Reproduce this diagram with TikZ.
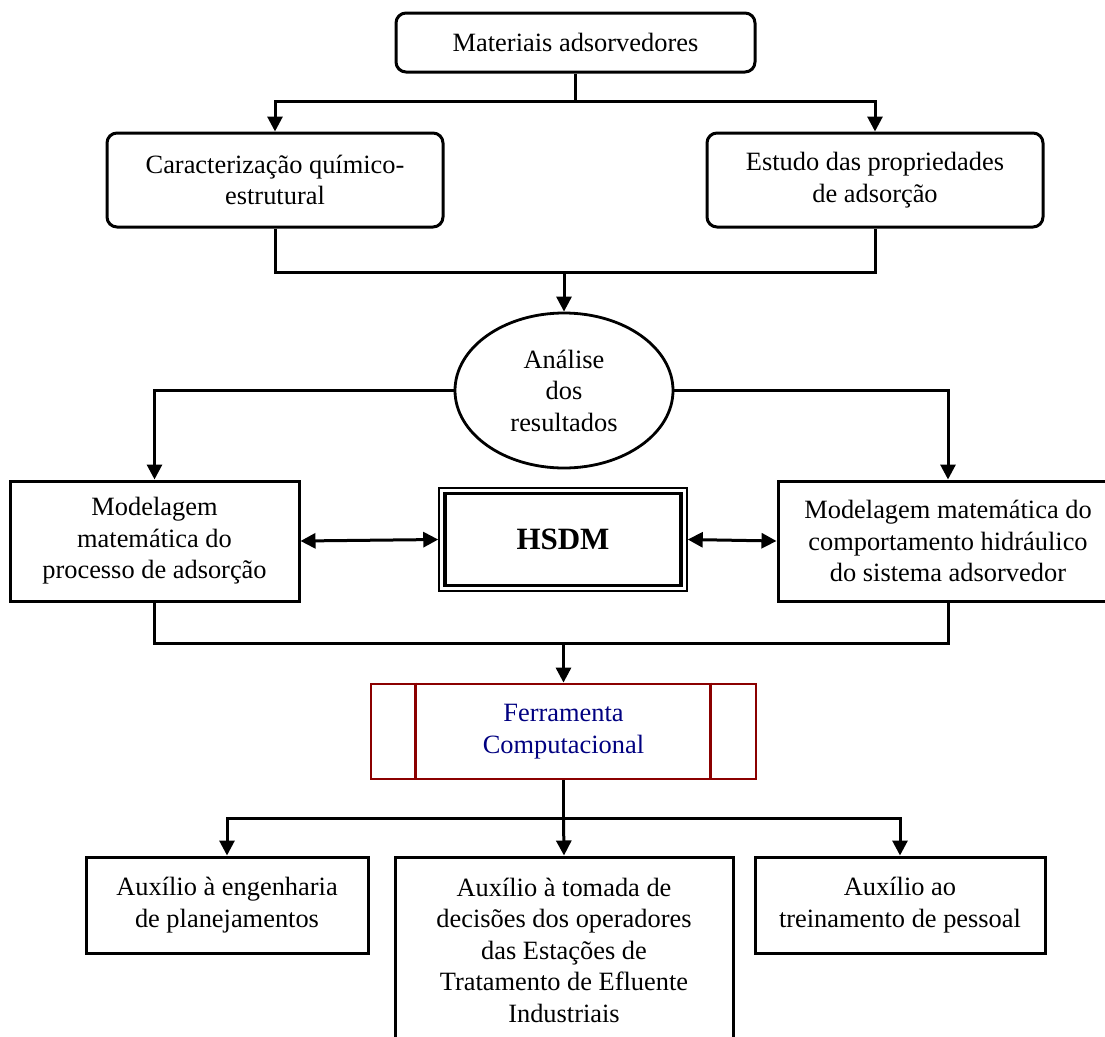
\documentclass[tikz,border=0pt]{standalone}
\usepackage{fontspec}
\setmainfont{Liberation Serif}
\usepackage{xcolor}
\usetikzlibrary{arrows.meta,shapes.geometric,positioning}

\definecolor{ferrframe}{RGB}{139,0,0}
\definecolor{ferrtext}{RGB}{0,0,128}

\tikzset{
  roundbox/.style={draw, line width=3pt, rounded corners=10pt, align=center, inner sep=0pt},
  plainbox/.style={draw, line width=3pt, align=center, inner sep=0pt},
  conn/.style={line width=3pt},
  conarrow/.style={conn, -{Triangle[length=15pt,width=15pt]}},
  biarrow/.style={conn, {Triangle[length=15pt,width=15pt]}-{Triangle[length=15pt,width=15pt]}},
}

\begin{document}
\begin{tikzpicture}[x=1pt,y=1pt,yscale=-1,xscale=1,font=\fontsize{26.4}{31.5}\selectfont]
\useasboundingbox (0,0) rectangle (1105,1036);
\clip (0,0) rectangle (1105,1036);

%Shape: Rounded Rectangle
\node[roundbox, minimum width=359, minimum height=59] (mat) at (575.5,42.5) {Materiais adsorvedores};
%Shape: Rounded Rectangle
\node[roundbox, minimum width=336, minimum height=94] (carac) at (275,180) {Caracterização químico-\\estrutural};
%Shape: Rounded Rectangle
\node[roundbox, minimum width=336, minimum height=94] (estudo) at (875,180) {Estudo das propriedades\\de adsorção};

%Shape: Ellipse
\node[draw, ellipse, line width=2.8pt, minimum width=218, minimum height=155, inner sep=0pt, align=center] (analise) at (564,390.5) {Análise\\dos\\resultados};

%Shape: Rectangle
\node[plainbox, minimum width=289, minimum height=120] (modA) at (154.5,541) {Modelagem\\matemática do\\processo de adsorção};
%Shape: Rectangle
\node[plainbox, minimum width=340, minimum height=120] (modB) at (948,541) {Modelagem matemática do\\comportamento hidráulico\\do sistema adsorvedor};

%Shape: Double Frame
\node[draw, line width=1.5pt, minimum width=248, minimum height=103] (hsdmf) at (563,539.5) {};
\node[draw, line width=3.2pt, minimum width=236, minimum height=92, font=\fontsize{31}{36}\selectfont\bfseries] (hsdm) at (563,539.5) {HSDM};

%Shape: Predefined Process
\node[draw=ferrframe, line width=2.8pt, minimum width=385, minimum height=95, align=center, text=ferrtext] (ferr) at (563.5,731.5) {Ferramenta\\Computacional};
\draw[ferrframe, line width=2.8pt] ([xshift=46pt]ferr.north west) -- ([xshift=46pt]ferr.south west);
\draw[ferrframe, line width=2.8pt] ([xshift=-47pt]ferr.north east) -- ([xshift=-47pt]ferr.south east);

%Shape: Rectangle
\node[plainbox, minimum width=282, minimum height=96] (aux1) at (227,905) {Auxílio à engenharia\\de planejamentos};
%Shape: Rectangle
\node[plainbox, minimum width=338, minimum height=186] (aux2) at (564,950) {Auxílio à tomada de\\decisões dos operadores\\das Estações de\\Tratamento de Efluente\\Industriais};
%Shape: Rectangle
\node[plainbox, minimum width=290, minimum height=96] (aux3) at (900,905) {Auxílio ao\\treinamento de pessoal};

%Straight Lines
\coordinate (j1) at (575.5,101);
\draw[conn] (mat.south) -- (j1);
\draw[conarrow] (j1) -| (carac.north);
\draw[conarrow] (j1) -| (estudo.north);

\draw[conn] (carac.south) -- ++(0,44) -| (estudo.south);
\coordinate (j2) at (564,271);
\draw[conarrow] (j2) -- (analise.north);

\draw[conarrow] (analise.west) -| (modA.north);
\draw[conarrow] (analise.east) -| (modB.north);

\draw[biarrow] (modA.east) -- (hsdmf.west);
\draw[biarrow] (hsdmf.east) -- (modB.west);

\draw[conn] (modA.south) -- ++(0,41) -| (modB.south);
\coordinate (j3) at (563.5,642);
\draw[conarrow] (j3) -- (ferr.north);

\coordinate (j4) at (563.5,818);
\draw[conn] (ferr.south) -- (j4);
\draw[conarrow] (j4) -| (aux1.north);
\draw[conarrow] (j4) -- (aux2.north);
\draw[conarrow] (j4) -| (aux3.north);

\end{tikzpicture}
\end{document}
